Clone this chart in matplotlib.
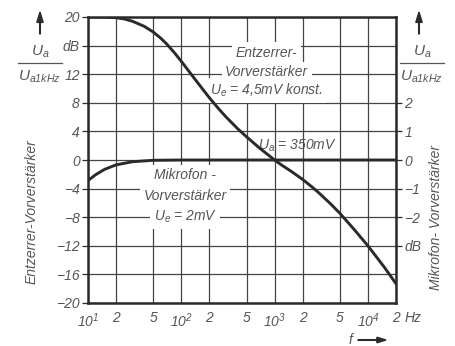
import matplotlib
matplotlib.use("Agg")
import matplotlib.pyplot as plt

# Frequency response, Entzerrer-Vorverstärker (left scale, dB)
freq_ent = [10, 15, 20, 25, 30, 40, 50, 60, 70, 85, 100, 120, 150, 200, 250, 300,
            400, 500, 600, 700, 800, 1000, 1200, 1500, 2000, 2500, 3000, 4000,
            5000, 7000, 10000, 15000, 20000]
gain_ent = [20.0, 20.0, 19.9, 19.7, 19.4, 18.7, 17.9, 17.05, 16.2, 14.95, 13.8,
            12.45, 10.8, 8.7, 7.2, 6.05, 4.4, 3.25, 2.35, 1.6, 1.0, 0.0, -0.74,
            -1.57, -2.72, -3.74, -4.63, -6.16, -7.45, -9.6, -12.0, -15.0, -17.3]

# Frequency response, Mikrofon-Vorverstärker (right scale, dB)
freq_mic = [10, 12, 15, 20, 30, 50, 100, 1000, 10000, 20000]
gain_mic = [-0.72, -0.52, -0.33, -0.17, -0.06, -0.01, 0.0, 0.0, 0.0, 0.0]

x_ticks = [10, 20, 50, 100, 200, 500, 1000, 2000, 5000, 10000, 20000]
x_labels = ["$10^1$", "2", "5", "$10^2$", "2", "5", "$10^3$", "2", "5", "$10^4$", "2"]
left_ticks = [20, 16, 12, 8, 4, 0, -4, -8, -12, -16, -20]
left_labels = ["20", "dB", "12", "8", "4", "0", "\u22124", "\u22128", "\u221212", "\u221216", "\u221220"]
right_ticks = [2, 1, 0, -1, -2, -3]
right_labels = ["2", "1", "0", "\u22121", "\u22122", "dB"]

FONT = "Liberation Sans"
plt.rcParams["font.family"] = [FONT, "DejaVu Sans"]
plt.rcParams["font.style"] = "italic"
plt.rcParams["mathtext.fontset"] = "custom"
plt.rcParams["mathtext.it"] = FONT + ":italic"
plt.rcParams["mathtext.rm"] = FONT + ":italic"
plt.rcParams["mathtext.default"] = "it"

ink = "#2a2a2a"
txt = "#555555"
fs = 10

fig = plt.figure(figsize=(4.55, 3.46), dpi=100)
ax = fig.add_axes([88 / 455, 1 - 303 / 346, 308 / 455, 286 / 346])
ax.set_xscale("log")
ax.set_xlim(10, 20000)
ax.set_ylim(-20, 20)

ax.set_xticks(x_ticks)
ax.set_xticklabels(x_labels, fontsize=fs, color=txt)
ax.xaxis.set_minor_locator(matplotlib.ticker.NullLocator())
ax.set_yticks(left_ticks)
ax.set_yticklabels(left_labels, fontsize=fs, color=txt)
ax.tick_params(axis="x", length=0, pad=6)
ax.tick_params(axis="y", length=4, width=0.9, color=ink, pad=2)
ax.grid(True, color="#444444", lw=0.9)
for s in ax.spines.values():
    s.set_linewidth(1.8)
    s.set_color(ink)

ax.plot(freq_ent, gain_ent, color=ink, lw=2.1, zorder=4, clip_on=True,
        solid_joinstyle="round")

ax2 = ax.twinx()
ax2.set_ylim(-5, 5)
ax2.set_yticks(right_ticks)
ax2.set_yticklabels(right_labels, fontsize=fs, color=txt)
ax2.tick_params(axis="y", length=4, width=0.9, color=ink, pad=2)
for s in ax2.spines.values():
    s.set_visible(False)
ax2.plot(freq_mic, gain_mic, color=ink, lw=2.1, zorder=4, solid_joinstyle="round")

# "Hz" after the last frequency label
ax.annotate("Hz", xy=(20000, -20), xytext=(6, -6), textcoords="offset points",
            ha="left", va="top", fontsize=fs, color=txt, annotation_clip=False)

# Annotations inside the plot area
box = dict(facecolor="white", edgecolor="none", pad=2.5)
for text, y in [("Entzerrer-", 15.0), ("Vorverstärker", 12.3), ("$U_e$ = 4,5mV konst.", 9.7)]:
    ax.text(820, y, text, ha="center", va="center", fontsize=fs, color=txt, bbox=box, zorder=3)
ax.text(1750, 2.0, "$U_a$ = 350mV", ha="center", va="center", fontsize=fs, color=txt, zorder=3)
for text, y in [("Mikrofon -", -2.1), ("Vorverstärker", -5.0), ("$U_e$ = 2mV", -8.0)]:
    ax.text(110, y, text, ha="center", va="center", fontsize=fs, color=txt, bbox=box, zorder=3)

# Axis quantity labels in figure coordinates
def frac(xc):
    fig.text(xc / 455, 1 - 52 / 346, "$U_a$", ha="center", va="center", fontsize=fs + 1, color=txt)
    fig.add_artist(plt.Line2D([(xc - 22) / 455, (xc + 22) / 455], [1 - 63 / 346] * 2,
                              color=txt, lw=0.9))
    fig.text(xc / 455, 1 - 77 / 346, "$U_{a1kHz}$", ha="center", va="center", fontsize=fs + 1, color=txt)

frac(40)
frac(422)
for xa in (40, 419):
    fig.add_artist(matplotlib.patches.FancyArrow(xa / 455, 1 - 34 / 346, 0, 22 / 346, width=0.0015,
                                                 head_width=0.014, head_length=0.03, color=ink,
                                                 length_includes_head=True))
fig.text(32 / 455, 1 - 212 / 346, "Entzerrer-Vorverstärker", rotation=90, ha="center",
         va="center", fontsize=fs, color=txt)
fig.text(436 / 455, 1 - 218 / 346, "Mikrofon- Vorverstärker", rotation=90, ha="center",
         va="center", fontsize=fs, color=txt)

# Frequency axis label with arrow
fig.text(350 / 455, 1 - 340 / 346, "f", ha="center", va="center", fontsize=fs, color=txt)
fig.add_artist(matplotlib.patches.FancyArrow(358 / 455, 1 - 340 / 346, 28 / 455, 0, width=0.002,
                                             head_width=0.016, head_length=0.02, color=ink,
                                             length_includes_head=True))

fig.savefig("out.png", dpi=100, facecolor="white")
